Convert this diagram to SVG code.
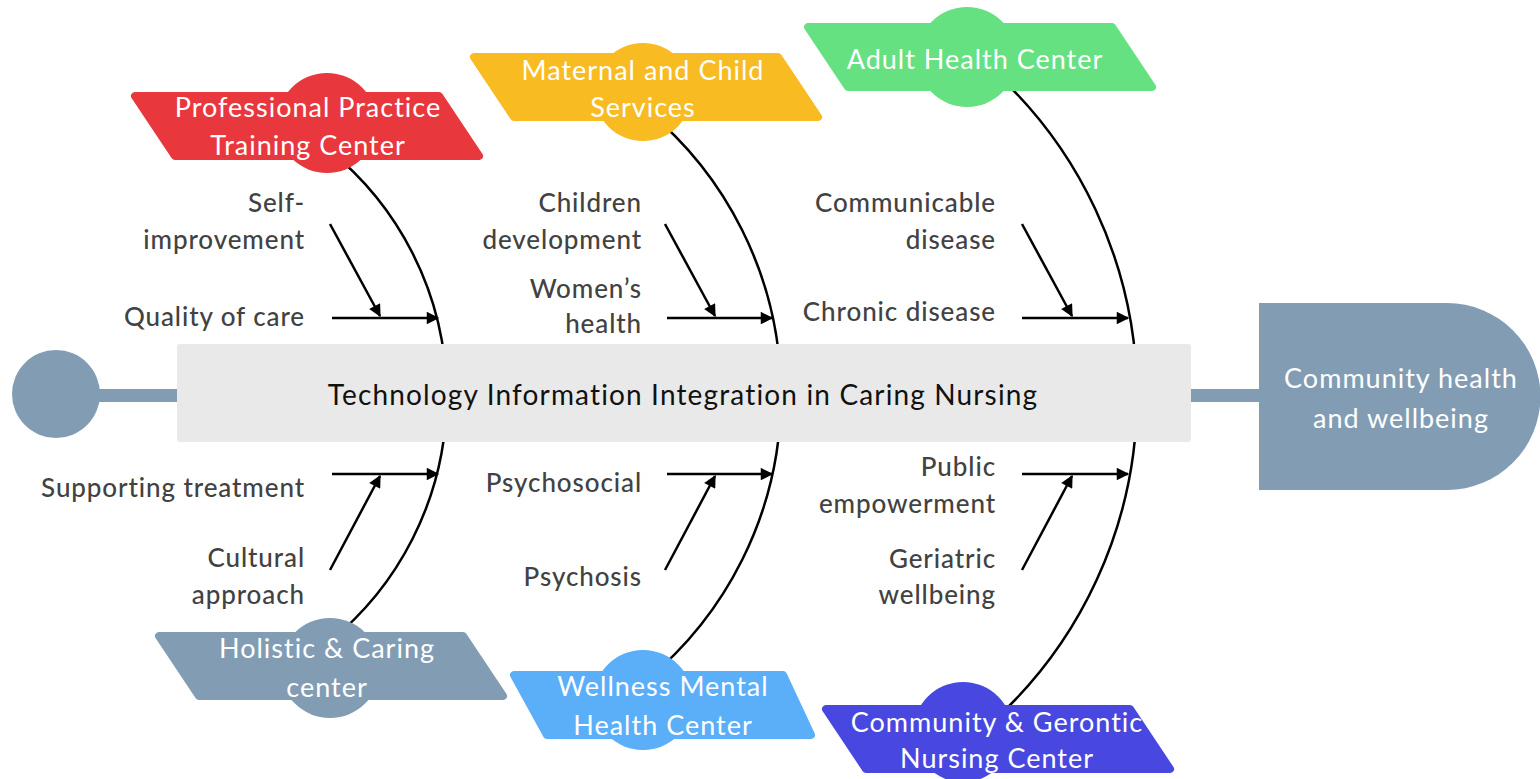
<svg xmlns="http://www.w3.org/2000/svg" width="1540" height="779" viewBox="0 0 1540 779">
<defs>
<style>
.lbl{font-family:Lato,"Open Sans",sans-serif;font-size:26px;letter-spacing:0.9px;fill:#424242;text-anchor:end;font-weight:500}
.cat{font-family:Lato,"Open Sans",sans-serif;font-size:27px;letter-spacing:1px;fill:#ffffff;text-anchor:middle}
.bone{fill:none;stroke:#000;stroke-width:2.5}
.arr{fill:none;stroke:#000;stroke-width:2.5;marker-end:url(#ah)}
.para{stroke-width:8;stroke-linejoin:round}
</style>
<marker id="ah" viewBox="0 0 10 10" refX="9" refY="5" markerWidth="6" markerHeight="5" markerUnits="strokeWidth" orient="auto">
<path d="M0,0 L10,5 L0,10 Z" fill="#000"/>
</marker>
<path id="pg" d="M4,4 L308,4 L348,64 L44,64 Z"/>
</defs>
<rect width="1540" height="779" fill="#ffffff"/>

<g id="spine">
<circle cx="56" cy="394" r="44" fill="#829db3"/>
<rect x="56" y="389" width="1210" height="13" fill="#829db3"/>
</g>

<g id="connectors">
<path class="bone" d="M329,150 A316,316 0 0 1 329,642"/>
<path class="bone" d="M646.6,110 A369.4,369.4 0 0 1 646.6,680"/>
<path class="bone" d="M992.4,70 A439.8,439.8 0 0 1 994.6,720"/>
<path class="arr" d="M332,318 L438,318"/>
<path class="arr" d="M330,224 L380,316"/>
<path class="arr" d="M667,318 L772,318"/>
<path class="arr" d="M665,224 L715,316"/>
<path class="arr" d="M1022,318 L1128,318"/>
<path class="arr" d="M1022,224 L1072,316"/>
<path class="arr" d="M332,474 L438,474"/>
<path class="arr" d="M330,570 L380,476"/>
<path class="arr" d="M667,474 L772,474"/>
<path class="arr" d="M665,570 L715,476"/>
<path class="arr" d="M1022,474 L1128,474"/>
<path class="arr" d="M1022,570 L1072,476"/>
</g>

<g id="main">
<rect x="177" y="344" width="1014" height="98" rx="3" fill="#e9e9e9"/>
<text x="683" y="405" font-family="Lato,'Open Sans',sans-serif" font-size="28" letter-spacing="1.15" fill="#111" text-anchor="middle">Technology Information Integration in Caring Nursing</text>
</g>

<g id="head">
<path d="M1259,303 H1447 A93.5,93.5 0 0 1 1447,490 H1259 Z" fill="#829db3"/>
<text x="1401" y="388" class="cat" font-size="29" letter-spacing="1.4">Community health</text>
<text x="1401" y="428" class="cat" font-size="29" letter-spacing="1.4">and wellbeing</text>
</g>

<g id="cat-professional">
<use href="#pg" transform="translate(131,92)" fill="#e8383d" stroke="#e8383d" class="para"/>
<circle cx="327" cy="123" r="50" fill="#e8383d"/>
<text x="308" y="117" class="cat">Professional Practice</text>
<text x="308" y="155" class="cat">Training Center</text>
</g>

<g id="cat-maternal">
<use href="#pg" transform="translate(470,53)" fill="#f9bb22" stroke="#f9bb22" class="para"/>
<circle cx="643" cy="92" r="49" fill="#f9bb22"/>
<text x="643" y="80" class="cat">Maternal and Child</text>
<text x="643" y="117" class="cat">Services</text>
</g>

<g id="cat-adult">
<use href="#pg" transform="translate(804,23)" fill="#66e182" stroke="#66e182" class="para"/>
<circle cx="967" cy="57" r="50" fill="#66e182"/>
<text x="975" y="69" class="cat">Adult Health Center</text>
</g>

<g id="cat-holistic">
<use href="#pg" transform="translate(155,632)" fill="#829db3" stroke="#829db3" class="para"/>
<circle cx="330" cy="668" r="50" fill="#829db3"/>
<text x="327" y="658" class="cat">Holistic &amp; Caring</text>
<text x="327" y="697" class="cat">center</text>
</g>

<g id="cat-wellness">
<path d="M514,675 L783,675 L811,735 L547,735 Z" fill="#5aaff8" stroke="#5aaff8" class="para"/>
<circle cx="643" cy="700" r="50" fill="#5aaff8"/>
<text x="663" y="696" class="cat">Wellness Mental</text>
<text x="663" y="735" class="cat">Health Center</text>
</g>

<g id="cat-community">
<use href="#pg" transform="translate(822,705)" fill="#4848e0" stroke="#4848e0" class="para"/>
<circle cx="963" cy="732" r="50" fill="#4848e0"/>
<text x="997" y="732" class="cat">Community &amp; Gerontic</text>
<text x="997" y="768" class="cat">Nursing Center</text>
</g>

<g id="labels">
<text x="305" y="212" class="lbl">Self-</text>
<text x="305" y="249" class="lbl">improvement</text>
<text x="305" y="326" class="lbl">Quality of care</text>
<text x="642" y="212" class="lbl">Children</text>
<text x="642" y="249" class="lbl">development</text>
<text x="642" y="298" class="lbl">Women’s</text>
<text x="642" y="333" class="lbl">health</text>
<text x="996" y="212" class="lbl">Communicable</text>
<text x="996" y="249" class="lbl">disease</text>
<text x="996" y="321" class="lbl">Chronic disease</text>
<text x="305" y="497" class="lbl">Supporting treatment</text>
<text x="305" y="567" class="lbl">Cultural</text>
<text x="305" y="604" class="lbl">approach</text>
<text x="642" y="492" class="lbl">Psychosocial</text>
<text x="642" y="586" class="lbl">Psychosis</text>
<text x="996" y="476" class="lbl">Public</text>
<text x="996" y="513" class="lbl">empowerment</text>
<text x="996" y="568" class="lbl">Geriatric</text>
<text x="996" y="604" class="lbl">wellbeing</text>
</g>
</svg>
